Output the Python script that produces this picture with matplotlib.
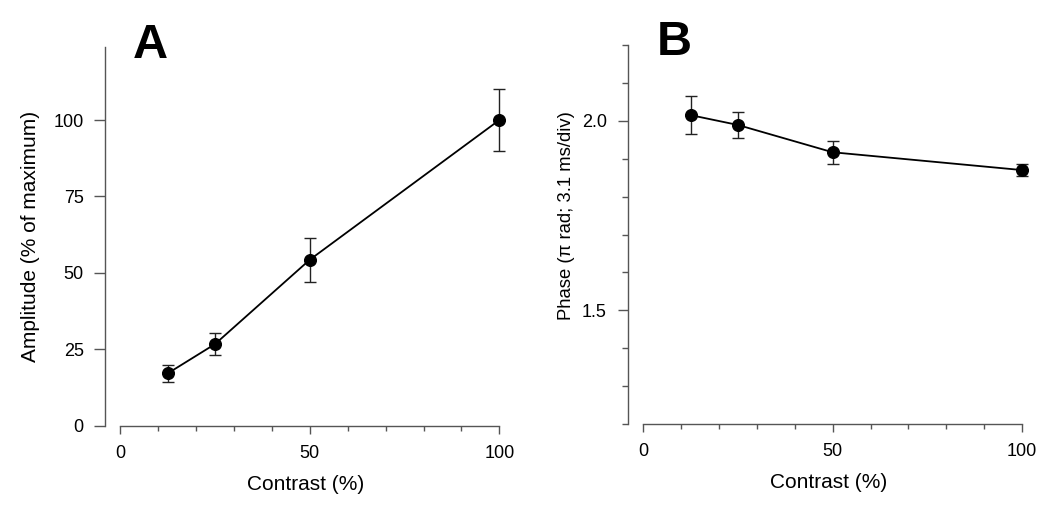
import matplotlib
matplotlib.use("Agg")
import matplotlib.pyplot as plt
from matplotlib.ticker import MultipleLocator, FixedLocator, FuncFormatter

plt.rcParams['font.family'] = ['Liberation Sans', 'DejaVu Sans']

contrast = [12.5, 25, 50, 100]
amplitude = [17.1, 26.7, 54.3, 100.0]
amplitude_err = [2.8, 3.5, 7.2, 10.0]
phase = [2.015, 1.989, 1.917, 1.870]
phase_err = [0.050, 0.035, 0.031, 0.015]

W, H = 1050, 514
DPI = 100
fig = plt.figure(figsize=(W / DPI, H / DPI), dpi=DPI)

spine_col = '#555555'
TICK_FS = 13


def px_axes(left, right, top, bottom):
    return [left / W, (H - bottom) / H, (right - left) / W, (bottom - top) / H]


def style(ax):
    for s in ('top', 'right'):
        ax.spines[s].set_visible(False)
    for s in ('left', 'bottom'):
        ax.spines[s].set_color(spine_col)
        ax.spines[s].set_linewidth(1.0)
    ax.spines['bottom'].set_bounds(0, 100)
    ax.xaxis.set_major_locator(FixedLocator([0, 50, 100]))
    ax.xaxis.set_minor_locator(MultipleLocator(10))
    ax.tick_params(axis='x', which='major', length=6, width=1, color=spine_col,
                   pad=8, labelsize=TICK_FS)
    ax.tick_params(axis='x', which='minor', length=3.5, width=1, color=spine_col)
    ax.set_xlabel('Contrast (%)', fontsize=15, labelpad=9)


# Panel A
axA = fig.add_axes(px_axes(104.7, 506.9, 46.7, 425.7))
axA.errorbar(contrast, amplitude, yerr=amplitude_err, fmt='o-', color='black',
             ms=8.4, lw=1.3, elinewidth=1.0, capsize=4.3, capthick=1.0,
             ecolor='#222222', clip_on=False)
axA.set_xlim(-4.1, 102)
axA.set_ylim(0, 124)
style(axA)
axA.yaxis.set_major_locator(FixedLocator([0, 25, 50, 75, 100]))
axA.tick_params(axis='y', which='major', length=8, width=1, color=spine_col,
                pad=7, labelsize=TICK_FS)
axA.set_ylabel('Amplitude (% of maximum)', fontsize=15)
axA.yaxis.set_label_coords(-0.162, 0.5)

# Panel B
axB = fig.add_axes(px_axes(627.7, 1029.6, 45, 424))
axB.errorbar(contrast, phase, yerr=phase_err, fmt='o-', color='black',
             ms=8.4, lw=1.3, elinewidth=1.0, capsize=4.3, capthick=1.0,
             ecolor='#222222', clip_on=False)
axB.set_xlim(-4.1, 102)
axB.set_ylim(1.2, 2.2)
style(axB)
axB.yaxis.set_major_locator(FixedLocator([1.5, 2.0]))
axB.yaxis.set_major_formatter(FuncFormatter(lambda v, p: f'{v:.1f}'))
axB.yaxis.set_minor_locator(FixedLocator([1.2, 1.3, 1.4, 1.6, 1.7, 1.8, 1.9, 2.1, 2.2]))
axB.tick_params(axis='y', which='major', length=7, width=1, color=spine_col,
                pad=8, labelsize=TICK_FS)
axB.tick_params(axis='y', which='minor', length=4, width=1, color=spine_col)
axB.set_ylabel('Phase (\u03c0 rad; 3.1 ms/div)', fontsize=13.3)
axB.yaxis.set_label_coords(-0.13, 0.551)

# Panel letters
fig.text(133 / W, (H - 58) / H, 'A', fontsize=35, fontweight='bold', va='baseline', ha='left')
fig.text(657 / W, (H - 55) / H, 'B', fontsize=35, fontweight='bold', va='baseline', ha='left')

fig.savefig('out.png', dpi=DPI)
